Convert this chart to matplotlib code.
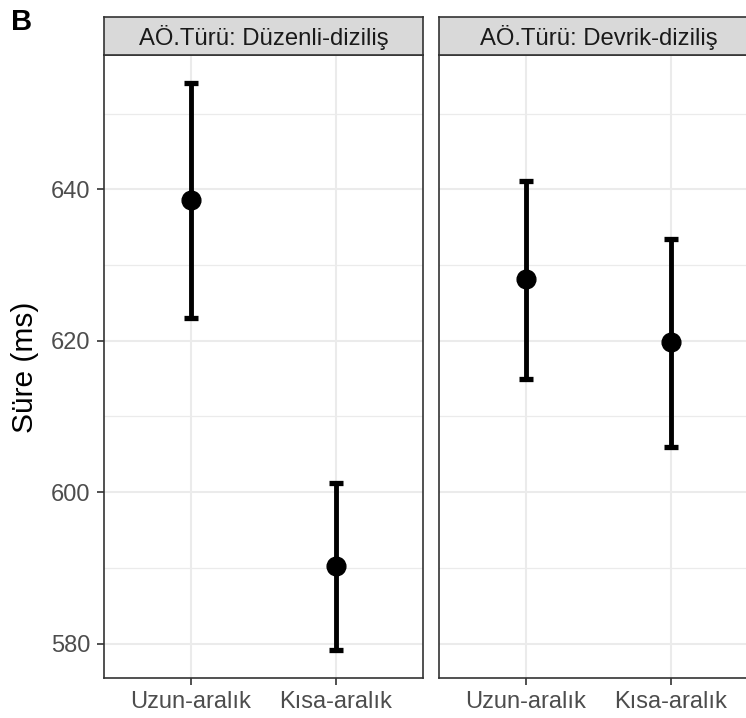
import matplotlib
matplotlib.use("Agg")
import matplotlib.pyplot as plt
import numpy as np

plt.rcParams['font.family'] = ['Liberation Sans', 'DejaVu Sans']

# data
panels = ["AÖ.Türü: Düzenli-diziliş", "AÖ.Türü: Devrik-diziliş"]
conditions = ["Uzun-aralık", "Kısa-aralık"]
means = [[638.6, 590.2], [628.1, 619.8]]
lower = [[623.0, 579.2], [615.0, 606.0]]
upper = [[654.0, 601.2], [641.1, 633.4]]
yticks = [580, 600, 620, 640]
yminor = [590, 610, 630, 650]

W, H = 746, 718
fig = plt.figure(figsize=(W / 100, H / 100), dpi=100)

lo_all = min(min(r) for r in lower)
hi_all = max(max(r) for r in upper)
pad = (hi_all - lo_all) * 0.05
ylim = (lo_all - pad, hi_all + pad)

px = lambda x, y, w, h: [x / W, 1 - (y + h) / H, w / W, h / H]
lefts = [104, 439]
pw = 319
ptop, pbot = 55, 678
stop = 17

for k in range(2):
    ax = fig.add_axes(px(lefts[k], ptop, pw, pbot - ptop))
    xs = np.arange(1, len(conditions) + 1)
    m = np.array(means[k])
    err = np.array([m - np.array(lower[k]), np.array(upper[k]) - m])
    for yy in yminor:
        ax.axhline(yy, color="#EBEBEB", lw=0.9, zorder=0)
    for yy in yticks:
        ax.axhline(yy, color="#EBEBEB", lw=1.5, zorder=0)
    for xx in xs:
        ax.axvline(xx, color="#EBEBEB", lw=1.5, zorder=0)
    ax.errorbar(xs, m, yerr=err, fmt="o", color="black", ms=13.5,
                elinewidth=3.5, capsize=5.3, capthick=3.8, zorder=3)
    ax.set_xlim(0.4, 2.6)
    ax.set_ylim(*ylim)
    ax.set_xticks(xs)
    ax.set_xticklabels(conditions, fontsize=17, color="#4D4D4D")
    ax.set_yticks(yticks)
    ax.tick_params(axis="both", length=5, width=1.2, color="#333333", pad=4)
    ax.tick_params(axis="y", pad=5)
    if k == 0:
        ax.set_yticklabels([str(t) for t in yticks], fontsize=17, color="#4D4D4D")
    else:
        ax.tick_params(axis="y", left=False, labelleft=False)
    for s in ax.spines.values():
        s.set_color("#333333")
        s.set_linewidth(1.2)

    sax = fig.add_axes(px(lefts[k], stop, pw, ptop - stop))
    sax.set_facecolor("#D9D9D9")
    sax.set_xticks([])
    sax.set_yticks([])
    for s in sax.spines.values():
        s.set_color("#333333")
        s.set_linewidth(1.2)
    sax.text(0.5, 0.47, panels[k], ha="center", va="center",
             fontsize=17.2, color="#1A1A1A", transform=sax.transAxes)

fig.text(25 / W, 1 - 367 / H, "Süre (ms)", rotation=90, ha="center", va="center",
         fontsize=21.5, color="black")
fig.text(11 / W, 1 - 30 / H, "B", ha="left", va="baseline", fontsize=21,
         fontweight="bold", color="black")

fig.savefig("out.png", dpi=100)
